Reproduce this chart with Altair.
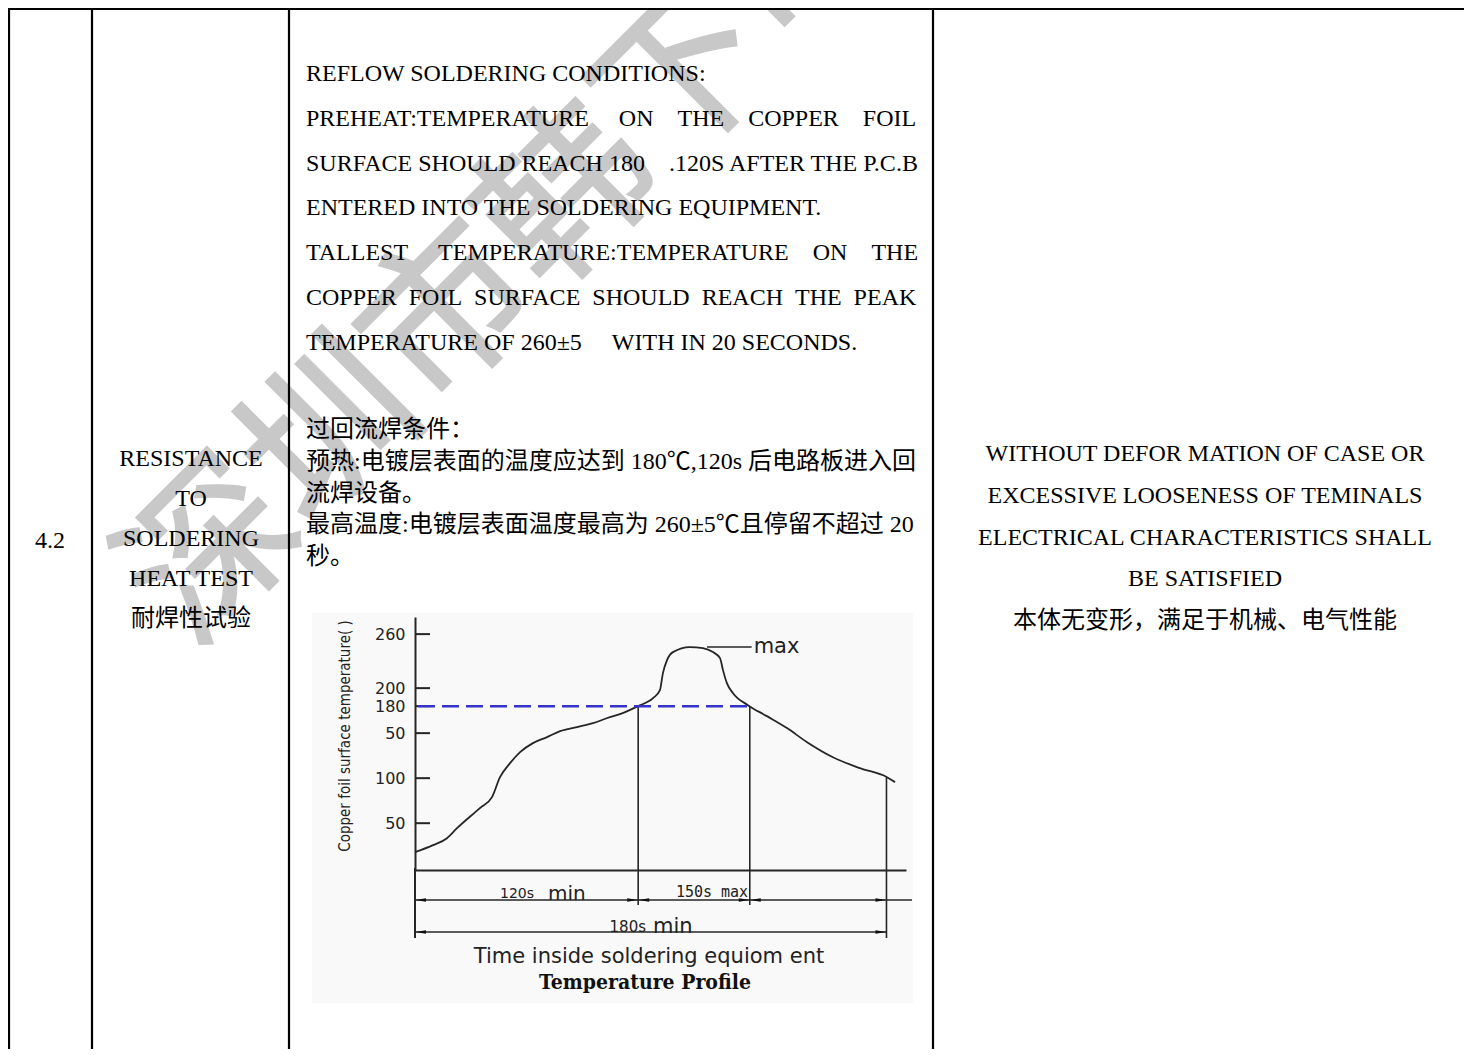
import altair as alt
import pandas as pd

# ---------------- data ----------------
time_s = [0, 9.7, 17.2, 22.6, 34.9, 41.4, 45.7, 51.1, 56.5, 63.4,
          71.0, 78.0, 87.1, 95.7, 104.8, 110.2, 119.9, 128.0, 131.7, 133.3,
          135.5, 138.7, 147.8, 154.8, 160.2, 164.0, 165.6, 167.7, 171.0, 179.0,
          189.2, 200.0, 210.8, 224.7, 239.2, 253.8, 258.1]
temp_c = [17.8, 25.6, 33.3, 44.4, 66.7, 78.9, 101.1, 116.7, 128.9, 138.9,
          145.6, 152.2, 156.7, 161.1, 167.8, 171.1, 180, 188.9, 197.8, 216.7,
          231.1, 240, 245.6, 244.4, 240, 233.3, 220, 205.6, 194.4, 181.1,
          168.9, 155.6, 140, 123.3, 111.1, 101.1, 95.6]
tick_values = [50, 100, 150, 180, 200, 260]
marker_s = [120, 180]
marker_c = [180, 180]
end_s = 253.5
end_c = 101
threshold_c = 180
threshold_start_s = 1.6
peak_c = 245.6
max_leader_s = [157, 181]

NB = "\u00a0"
col1_text = "4.2"
col2_lines = ["RESISTANCE", "TO", "SOLDERING", "HEAT TEST", "耐焊性试验"]
col3_en_lines = [
    "REFLOW SOLDERING CONDITIONS:",
    ("PREHEAT:TEMPERATURE" + NB * 5 + "ON" + NB * 4 + "THE" + NB * 4 + "COPPER" + NB * 4 + "FOIL"),
    "SURFACE SHOULD REACH 180" + NB * 4 + ".120S AFTER THE P.C.B",
    "ENTERED INTO THE SOLDERING EQUIPMENT.",
    "TALLEST" + NB * 5 + "TEMPERATURE:TEMPERATURE" + NB * 4 + "ON" + NB * 4 + "THE",
    (NB * 2).join(["COPPER", "FOIL", "SURFACE", "SHOULD", "REACH", "THE", "PEAK"]),
    "TEMPERATURE OF 260±5" + NB * 5 + "WITH IN 20 SECONDS.",
]
col3_cn_lines = [
    "过回流焊条件：",
    "预热:电镀层表面的温度应达到 180℃,120s 后电路板进入回",
    "流焊设备。",
    "最高温度:电镀层表面温度最高为 260±5℃且停留不超过 20",
    "秒。",
]
col4_lines = [
    "WITHOUT DEFOR MATION OF CASE OR",
    "EXCESSIVE LOOSENESS OF TEMINALS",
    "ELECTRICAL CHARACTERISTICS SHALL",
    "BE SATISFIED",
    "本体无变形，满足于机械、电气性能",
]
watermark = "深圳市韩下电"
y_title = "Copper foil surface temperature( )"

# ---------------- layout ----------------
X0, Y0 = 415, 617          # page position of the plot origin
W, H = 491, 253
def px(X):
    return X - X0
def py(Y):
    return Y - Y0

SERIF = "Liberation Serif, Times New Roman, Noto Sans CJK SC, serif"
SANS = "DejaVu Sans, sans-serif"
NARROW = "Liberation Sans Narrow, Arial Narrow, DejaVu Sans Condensed, sans-serif"
one = pd.DataFrame({"k": [0]})


def vtext(X, Y, text, **kw):
    return alt.Chart(one).mark_text(**kw).encode(
        x=alt.value(px(X)), y=alt.value(py(Y)), text=alt.value(text))


def vrule(X1, Y1, X2, Y2, **kw):
    return alt.Chart(one).mark_rule(**kw).encode(
        x=alt.value(px(X1)), y=alt.value(py(Y1)),
        x2=alt.value(px(X2)), y2=alt.value(py(Y2)))


layers = []

# chart picture background
layers.append(alt.Chart(one).mark_rect(color="#f9f9f9").encode(
    x=alt.value(px(312)), x2=alt.value(px(913)),
    y=alt.value(py(613)), y2=alt.value(py(1003))))

# watermark
layers.append(vtext(512, 258, watermark, align="center", baseline="middle",
                    angle=315, fontSize=168, font="Noto Sans CJK SC",
                    fontWeight="normal", color="#c8c8c8", stroke="#c8c8c8", strokeWidth=2.5))

# table lines
TL = dict(color="#000000", strokeWidth=2.2)
layers.append(vrule(8, 9, 1464, 9, **TL))
for xv in [9, 92, 289, 933]:
    layers.append(vrule(xv, 8, xv, 1049, **TL))

# table texts
TXT = dict(font=SERIF, fontSize=24, color="#000000", baseline="alphabetic")
layers.append(vtext(50, 548, col1_text, align="center", **TXT))
layers.append(vtext(191, 466, col2_lines, align="center", lineHeight=40, **TXT))
layers.append(vtext(306, 81, col3_en_lines, align="left", lineHeight=44.8, **TXT))
layers.append(vtext(306, 437, col3_cn_lines, align="left", lineHeight=31.75, **TXT))
layers.append(vtext(1205, 461, col4_lines, align="center", lineHeight=41.75, **TXT))

# ---------------- the temperature profile ----------------
xs = alt.Scale(domain=[0, 264], nice=False, zero=False)
ys = alt.Scale(domain=[-2, 279], nice=False, zero=False)
LINE = "#262626"

curve_df = pd.DataFrame({"t": time_s, "T": temp_c})
curve = alt.Chart(curve_df).mark_line(color=LINE, strokeWidth=1.8, interpolate="monotone").encode(
    x=alt.X("t:Q", scale=xs, axis=alt.Axis(labels=False, ticks=False, tickSize=0, grid=False,
                                          title=None, domainColor=LINE, domainWidth=2, zindex=2)),
    y=alt.Y("T:Q", scale=ys, axis=alt.Axis(values=tick_values, ticks=False, tickSize=0, grid=False,
                                          title=None, domainColor=LINE, domainWidth=2, zindex=2,
                                          labelExpr="datum.value == 150 ? '50' : datum.label",
                                          labelFont=SANS, labelFontSize=16, labelColor="#222222",
                                          labelPadding=10)),
)

ticks = alt.Chart(pd.DataFrame({"T": tick_values})).mark_rule(color=LINE, strokeWidth=2).encode(
    y=alt.Y("T:Q"), x=alt.value(0), x2=alt.value(15))

axis_ext = alt.Chart(one).mark_rule(color=LINE, strokeWidth=2).encode(
    x=alt.value(0), y=alt.value(H - 2), y2=alt.value(py(938)))

markers = alt.Chart(pd.DataFrame({"t": marker_s, "T": marker_c})).mark_rule(
    color=LINE, strokeWidth=1.6).encode(x="t:Q", y="T:Q", y2=alt.value(py(905)))

end_marker = alt.Chart(one).mark_rule(color=LINE, strokeWidth=1.6).encode(
    x=alt.datum(end_s), y=alt.datum(end_c), y2=alt.value(py(938)))

threshold = alt.Chart(one).mark_rule(color="#3434c8", strokeWidth=2.5, strokeDash=[17, 7]).encode(
    x=alt.datum(threshold_start_s), x2=alt.datum(marker_s[1]), y=alt.datum(threshold_c))

max_leader = alt.Chart(one).mark_rule(color=LINE, strokeWidth=1.6).encode(
    x=alt.datum(max_leader_s[0]), x2=alt.datum(max_leader_s[1]), y=alt.datum(peak_c))
max_text = alt.Chart(one).mark_text(align="left", baseline="middle", font=SANS, fontSize=21,
                                    color="#222222", dx=2).encode(
    x=alt.datum(max_leader_s[1]), y=alt.datum(peak_c), text=alt.value("max"))

dim1 = alt.Chart(one).mark_rule(color=LINE, strokeWidth=1.6).encode(
    x=alt.datum(0), x2=alt.value(px(912)), y=alt.value(py(900)))
dim2 = alt.Chart(one).mark_rule(color=LINE, strokeWidth=1.6).encode(
    x=alt.datum(0), x2=alt.datum(end_s), y=alt.value(py(932)))

LEFT = "M0,0L1,-0.17L1,0.17Z"
RIGHT = "M0,0L-1,-0.17L-1,0.17Z"
arrows1 = alt.Chart(pd.DataFrame({
    "t": [0, marker_s[0], marker_s[0], marker_s[1], marker_s[1], end_s],
    "p": [LEFT, RIGHT, LEFT, RIGHT, LEFT, RIGHT]})).mark_point(
    filled=True, color="#111111", size=484, opacity=1, strokeWidth=0).encode(
    x="t:Q", y=alt.value(py(900)), shape=alt.Shape("p:N", scale=None))
arrows2 = alt.Chart(pd.DataFrame({"t": [0, end_s], "p": [LEFT, RIGHT]})).mark_point(
    filled=True, color="#111111", size=484, opacity=1, strokeWidth=0).encode(
    x="t:Q", y=alt.value(py(932)), shape=alt.Shape("p:N", scale=None))

chart_texts = [
    vtext(534, 894, "120s", align="right", font=SANS, fontSize=14, color="#222222"),
    vtext(548, 894, "min", align="left", font=SANS, fontSize=20, color="#222222"),
    vtext(712, 892, "150s max", align="center", font="DejaVu Sans Mono, monospace", fontSize=15,
          color="#222222"),
    vtext(646, 927, "180s", align="right", font=SANS, fontSize=15, color="#222222"),
    vtext(653, 927, "min", align="left", font=SANS, fontSize=21, color="#222222"),
    vtext(649, 957, "Time inside soldering equiom ent", align="center", font=SANS, fontSize=21,
          color="#222222"),
    vtext(645, 983, "Temperature Profile", align="center",
          font="DejaVu Serif Condensed, DejaVu Serif, serif", fontWeight="bold", fontSize=21,
          color="#111111"),
    vtext(345, 736, y_title, align="center", baseline="middle", angle=270, font=NARROW,
          fontSize=15, color="#222222"),
]

layers += [ticks, axis_ext, markers, end_marker, curve, threshold, max_leader, max_text,
           dim1, dim2, arrows1, arrows2] + chart_texts

chart = alt.layer(*layers).properties(
    width=W, height=H,
    padding={"left": X0 - 8, "top": Y0 - 8, "right": 1456 - (X0 - 8) - W, "bottom": 1041 - (Y0 - 8) - H},
    autosize=alt.AutoSizeParams(type="none"),
    background="white",
).configure_view(stroke=None)

chart.save("out.html", embed_options={"renderer": "svg", "actions": False})
